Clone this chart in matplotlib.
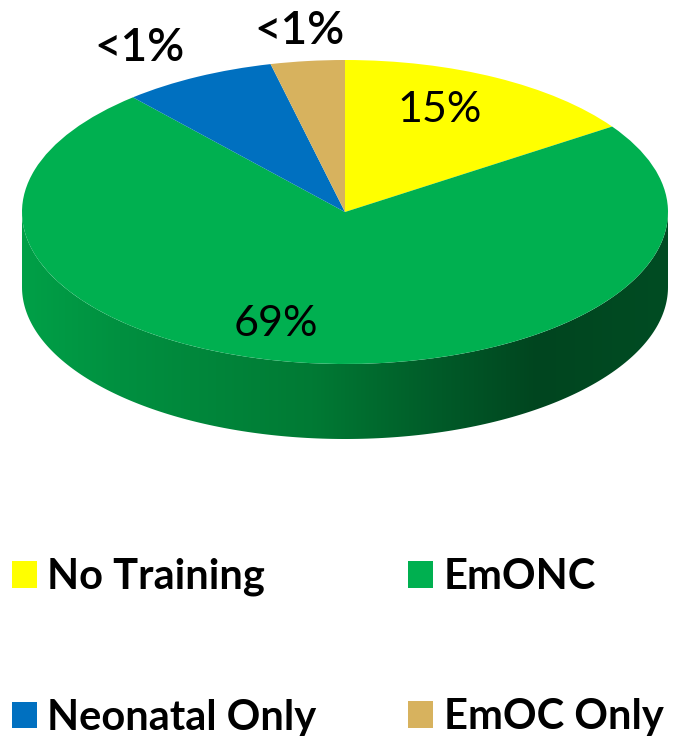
import numpy as np
import matplotlib
matplotlib.use("Agg")
import matplotlib.pyplot as plt
from matplotlib.patches import Polygon, Patch
from matplotlib.colors import LinearSegmentedColormap

# ---- data ----
categories = ["No Training", "EmONC", "Neonatal Only", "EmOC Only"]
values = [15.5, 73.1, 7.7, 3.7]          # visual slice sizes
labels = ["15%", "69%", "<1%", "<1%"]
colors = ["#FFFF00", "#00B050", "#0070C0", "#D7B25E"]

W, H = 679, 736
fig = plt.figure(figsize=(W / 100, H / 100), dpi=100)
ax = fig.add_axes([0, 0, 1, 1])

# pixel -> pie units
CX, CY, RX, RY = 345.0, 212.0, 323.0, 152.0
def px(x, y):
    return (x - CX) / RX, (CY - y) / RY

depth = 75.0 / RY

# side wall (front half of cylinder), gradient filled
t = np.linspace(np.pi, 2 * np.pi, 200)
top = np.column_stack([np.cos(t), np.sin(t)])
bot = np.column_stack([np.cos(t[::-1]), np.sin(t[::-1]) - depth])
side = Polygon(np.vstack([top, bot]), closed=True, facecolor="none",
               edgecolor="none")
ax.add_patch(side)
cmap = LinearSegmentedColormap.from_list(
    "side",
    [(0.0, "#00A047"), (0.15, "#009040"), (0.45, "#007A34"),
     (0.65, "#005A28"), (0.8, "#00451F"), (1.0, "#004C23")])
grad = np.linspace(0, 1, 256).reshape(1, -1)
im = ax.imshow(grad, cmap=cmap, extent=[-1, 1, -1 - depth, 0],
               aspect="auto", interpolation="bilinear", zorder=1)
im.set_clip_path(side)

# top face
wedges, _ = ax.pie(values, colors=colors, startangle=90, counterclock=False,
                   radius=1, center=(0, 0),
                   wedgeprops=dict(edgecolor="none", linewidth=0))
for w in wedges:
    w.set_zorder(2)

ax.set_aspect("auto")
x0, y0 = px(0, H)
x1, y1 = px(W, 0)
ax.set_xlim(x0, x1)
ax.set_ylim(y0, y1)
ax.axis("off")

# slice labels
font = ["Lato", "DejaVu Sans"]
lab_pos = [(440, 110), (276, 324), (140, 48), (300, 31)]
lab_w = ["normal", "normal", "semibold", "semibold"]
lab_s = [31, 31, 33, 33]
for lab, (lx, ly), fw, fs in zip(labels, lab_pos, lab_w, lab_s):
    ax.text(*px(lx, ly), lab, ha="center", va="center", fontsize=fs,
            fontweight=fw, family=font, color="black", zorder=5)

# legend (row-wise order in a 2-column layout)
order = [0, 2, 1, 3]
handles = [Patch(facecolor=colors[i], edgecolor="none") for i in order]
leg = fig.legend(handles, [categories[i] for i in order], loc="upper left",
                 bbox_to_anchor=(12 / W, 1 - 558 / H), ncol=2,
                 frameon=False, prop=dict(family=font, weight="bold", size=30),
                 handlelength=0.6, handleheight=0.6, handletextpad=0.25,
                 columnspacing=2.2, labelspacing=2.45, borderpad=0,
                 borderaxespad=0)

fig.savefig("out.png", dpi=100)
